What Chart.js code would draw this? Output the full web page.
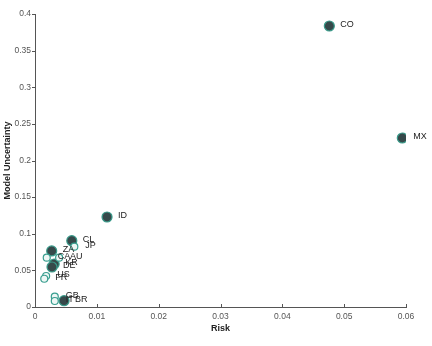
<!DOCTYPE html>
<html><head><meta charset="utf-8">
<script src="https://cdn.jsdelivr.net/npm/chart.js@4/dist/chart.umd.min.js"></script>
<style>html,body{margin:0;padding:0;background:#fff}#wrap{width:432px;height:346px}</style>
</head><body><div id="wrap"><canvas id="c" width="432" height="346"></canvas></div>
<script>
const darkCodes = ["CO","MX","ID","CL","ZA","KR","DE","BR"];
const darkRisk  = [0.0476,0.0594,0.01165,0.00595,0.0027,0.0031,0.00275,0.0047];
const darkUnc   = [0.3836,0.2307,0.1229,0.0905,0.0765,0.0587,0.0546,0.0086];
const lightCodes = ["JP","CA","AU","US","FR","GB","IT"];
const lightRisk  = [0.00636,0.0019,0.0039,0.0018,0.0015,0.0032,0.0032];
const lightUnc   = [0.0823,0.0673,0.0673,0.0423,0.0386,0.0141,0.0082];
const xTicks = [0,0.01,0.02,0.03,0.04,0.05,0.06];
const yTicks = [0,0.05,0.1,0.15,0.2,0.25,0.3,0.35,0.4];

const toPts = (xs, ys, codes) => xs.map((x,i)=>({x:x,y:ys[i],code:codes[i]}));

const labelPlugin = {
  id:'labels',
  afterDatasetsDraw(chart){
    const ctx = chart.ctx;
    ctx.save();
    ctx.font = '9px "Liberation Sans", Arial, sans-serif';
    ctx.fillStyle = '#222';
    ctx.textBaseline = 'middle';
    ctx.textAlign = 'left';
    chart.data.datasets.forEach((ds,di)=>{
      const meta = chart.getDatasetMeta(di);
      meta.data.forEach((el,i)=>{
        ctx.fillText(ds.data[i].code, el.x + 11, el.y - 1);
      });
    });
    ctx.restore();
  }
};
const tickPlugin = {
  id:'ticksIn',
  afterDraw(chart){
    const ctx = chart.ctx, xs = chart.scales.x, ys = chart.scales.y;
    ctx.save();
    ctx.strokeStyle = '#555'; ctx.lineWidth = 1;
    xTicks.forEach(v=>{
      const p = Math.round(xs.getPixelForValue(v))+0.5;
      ctx.beginPath(); ctx.moveTo(p, ys.bottom); ctx.lineTo(p, ys.bottom-3); ctx.stroke();
    });
    yTicks.forEach(v=>{
      const p = Math.round(ys.getPixelForValue(v))+0.5;
      ctx.beginPath(); ctx.moveTo(xs.left, p); ctx.lineTo(xs.left-3, p); ctx.stroke();
    });
    ctx.restore();
  }
};

const fmt = v => String(+(+v).toFixed(3));
const tickFont = {family:'"Liberation Sans", Arial, sans-serif', size:8.5};
const titleFont = {family:'"Liberation Sans", Arial, sans-serif', size:9, weight:'bold'};

new Chart(document.getElementById('c'), {
  type:'scatter',
  data:{datasets:[
    {label:'light', data:toPts(lightRisk,lightUnc,lightCodes), pointRadius:3.5, pointHoverRadius:3.5,
     backgroundColor:'#eef7f5', borderColor:'#3a9f90', borderWidth:1.2},
    {label:'dark', data:toPts(darkRisk,darkUnc,darkCodes), pointRadius:5, pointHoverRadius:5,
     backgroundColor:'#36494a', borderColor:'#3a9a8a', borderWidth:1.2}
  ]},
  options:{
    responsive:false, animation:false, devicePixelRatio:1,
    layout:{padding:{left:2,right:26,top:14,bottom:12}},
    plugins:{legend:{display:false}, tooltip:{enabled:false}},
    scales:{
      x:{type:'linear', min:0, max:0.06,
         afterBuildTicks(s){ s.ticks = xTicks.map(v=>({value:v})); },
         afterFit(s){ s.height = 27; },
         grid:{display:false, drawTicks:false},
         border:{display:true, color:'#555', width:1},
         ticks:{font:tickFont, color:'#555', padding:5, callback:fmt, maxRotation:0},
         title:{display:true, text:'Risk', font:titleFont, color:'#222', padding:{top:0,bottom:0}}},
      y:{type:'linear', min:0, max:0.4,
         afterBuildTicks(s){ s.ticks = yTicks.map(v=>({value:v})); },
         afterFit(s){ s.width = 33; },
         grid:{display:false, drawTicks:false},
         border:{display:true, color:'#555', width:1},
         ticks:{font:tickFont, color:'#555', padding:4, callback:fmt},
         title:{display:true, text:'Model Uncertainty', font:titleFont, color:'#222', padding:{top:0,bottom:0}}}
    }
  },
  plugins:[labelPlugin, tickPlugin]
});
</script></body></html>
